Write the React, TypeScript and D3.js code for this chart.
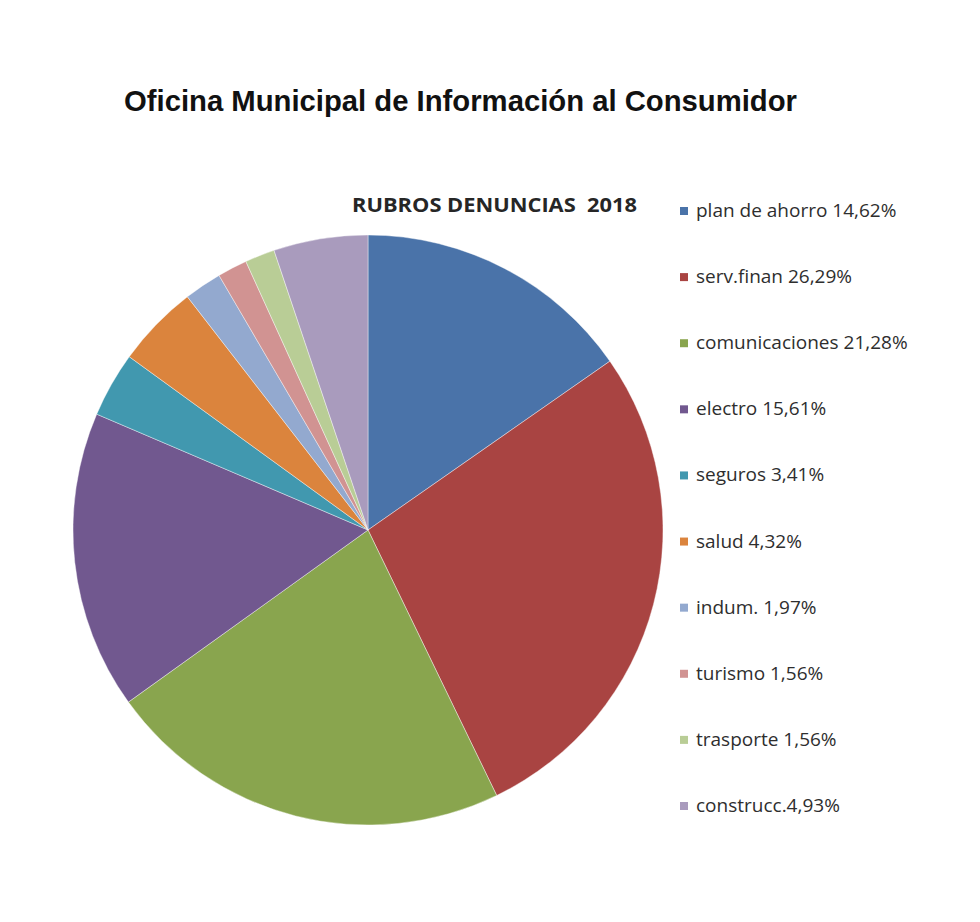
import React, { useEffect, useRef } from 'react';
import * as d3 from 'd3';

// Rubros y porcentajes de denuncias
const rubros = [
  'plan de ahorro',
  'serv.finan',
  'comunicaciones',
  'electro',
  'seguros',
  'salud',
  'indum.',
  'turismo',
  'trasporte',
  'construcc.',
];
const porcentajes = [14.62, 26.29, 21.28, 15.61, 3.41, 4.32, 1.97, 1.56, 1.56, 4.93];
const etiquetas = [
  'plan de ahorro 14,62%',
  'serv.finan 26,29%',
  'comunicaciones 21,28%',
  'electro 15,61%',
  'seguros 3,41%',
  'salud 4,32%',
  'indum. 1,97%',
  'turismo 1,56%',
  'trasporte 1,56%',
  'construcc.4,93%',
];
const colores = [
  '#4a73a9', '#a94442', '#89a54e', '#71588f', '#4198af',
  '#db843d', '#93a9cf', '#d19392', '#b9cd96', '#a99bbd',
];

const App = () => {
  const svgRef = useRef<SVGSVGElement>(null);

  useEffect(() => {
    const root = d3.select(svgRef.current);
    root.selectAll('*').remove();

    const width = 980;
    const height = 922;
    const cx = 368;
    const cy = 530;
    const radius = 295;

    root.attr('width', width).attr('height', height);

    root.append('rect')
      .attr('width', width)
      .attr('height', height)
      .attr('fill', '#ffffff');

    // Título
    root.append('text')
      .attr('x', 124)
      .attr('y', 111)
      .attr('textLength', 673)
      .attr('lengthAdjust', 'spacingAndGlyphs')
      .style('font-family', '"Liberation Sans", Arial, sans-serif')
      .style('font-weight', 'bold')
      .style('font-size', '30px')
      .style('fill', '#111')
      .text('Oficina Municipal de Información al Consumidor');

    root.append('text')
      .attr('x', 352)
      .attr('y', 212)
      .attr('textLength', 285)
      .attr('lengthAdjust', 'spacingAndGlyphs')
      .style('white-space', 'pre')
      .style('font-family', '"Open Sans", sans-serif')
      .style('font-weight', 'bold')
      .style('font-size', '19px')
      .style('fill', '#262626')
      .text('RUBROS DENUNCIAS  2018');

    const data = rubros.map((r, i) => ({ rubro: r, valor: porcentajes[i] }));

    const color = d3.scaleOrdinal<string, string>()
      .domain(rubros)
      .range(colores);

    const pie = d3.pie<{ rubro: string; valor: number }>()
      .sort(null)
      .value(d => d.valor);

    const arc = d3.arc<d3.PieArcDatum<{ rubro: string; valor: number }>>()
      .innerRadius(0)
      .outerRadius(radius);

    const g = root.append('g')
      .attr('transform', `translate(${cx},${cy})`);

    g.selectAll('path')
      .data(pie(data))
      .enter()
      .append('path')
      .attr('d', arc)
      .attr('fill', d => color(d.data.rubro))
      .attr('stroke', 'rgba(255,255,255,0.5)')
      .style('stroke-width', '0.8px');

    // Leyenda
    const y = d3.scalePoint<string>()
      .domain(rubros)
      .range([211, 806]);

    const legend = root.selectAll('.legend')
      .data(data)
      .enter().append('g')
      .attr('class', 'legend')
      .attr('transform', d => `translate(680,${y(d.rubro)})`);

    legend.append('rect')
      .attr('x', 0)
      .attr('y', -4)
      .attr('width', 8)
      .attr('height', 8)
      .style('fill', d => color(d.rubro));

    legend.append('text')
      .attr('x', 16)
      .attr('y', 6)
      .style('font-family', '"Open Sans", sans-serif')
      .style('font-size', '19px')
      .style('fill', '#2e2e2e')
      .text((d, i) => etiquetas[i]);
  }, []);

  return (
    <svg ref={svgRef} style={{ position: 'absolute', left: 0, top: 0 }}></svg>
  );
};

export default App;
